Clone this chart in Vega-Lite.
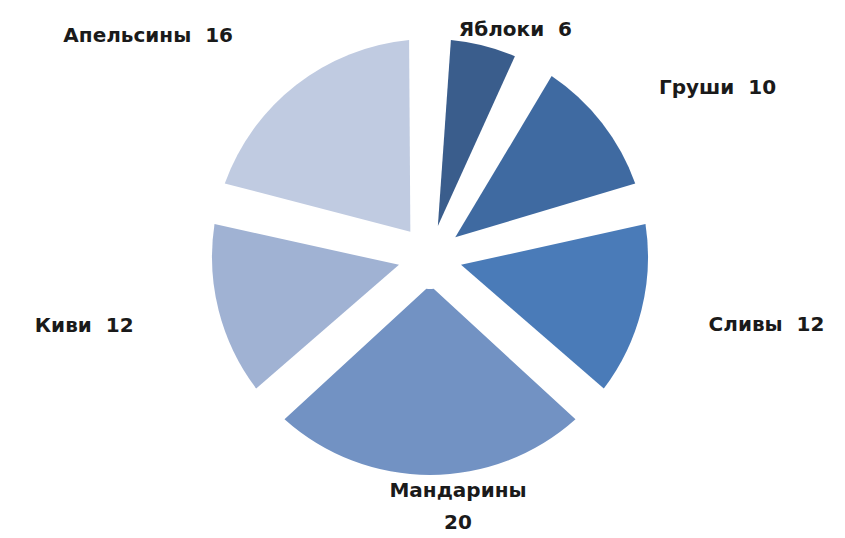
{
  "$schema": "https://vega.github.io/schema/vega-lite/v6.json",
  "autosize": {"type": "none"},
  "width": 460,
  "height": 460,
  "padding": {"left": 200, "top": 27, "right": 185, "bottom": 51},
  "background": "white",
  "config": {"view": {"stroke": null}},
  "data": {
    "values": [
      {"i": 1, "fruit": "Яблоки", "value": 6, "label": "Яблоки\u00a0\u00a06"},
      {"i": 2, "fruit": "Груши", "value": 10, "label": "Груши\u00a0\u00a010"},
      {"i": 3, "fruit": "Сливы", "value": 12, "label": "Сливы\u00a0\u00a012"},
      {"i": 4, "fruit": "Мандарины", "value": 20, "label": "Мандарины\n20"},
      {"i": 5, "fruit": "Киви", "value": 12, "label": "Киви\u00a0\u00a012"},
      {"i": 6, "fruit": "Апельсины", "value": 16, "label": "Апельсины\u00a0\u00a016"}
    ]
  },
  "encoding": {
    "theta": {"field": "value", "type": "quantitative", "stack": true},
    "order": {"field": "i", "type": "quantitative"}
  },
  "layer": [
    {
      "mark": {"type": "arc", "outerRadius": 218, "innerRadius": 32, "padAngle": 0.19},
      "encoding": {
        "color": {
          "field": "fruit",
          "type": "nominal",
          "sort": null,
          "scale": {
            "domain": ["Яблоки", "Груши", "Сливы", "Мандарины", "Киви", "Апельсины"],
            "range": ["#3a5d8c", "#3f6aa1", "#4a7bb8", "#7292c3", "#a0b2d3", "#c0cbe1"]
          },
          "legend": null
        }
      }
    },
    {
      "mark": {"type": "text", "radius": 234, "align": "center", "baseline": "middle", "dx": 28, "font": "DejaVu Sans", "fontWeight": "bold", "fontSize": 20, "color": "#1a1a1a", "lineBreak": "\n", "lineHeight": 32},
      "encoding": {
        "detail": {"field": "fruit", "type": "nominal"},
        "text": {"condition": {"test": "datum.fruit === 'Яблоки' || datum.fruit === 'Мандарины'", "field": "label"}, "value": ""}
      }
    },
    {
      "mark": {"type": "text", "radius": 275, "dx": 12, "align": "left", "baseline": "middle", "font": "DejaVu Sans", "fontWeight": "bold", "fontSize": 20, "color": "#1a1a1a"},
      "encoding": {
        "detail": {"field": "fruit", "type": "nominal"},
        "text": {"condition": {"test": "datum.fruit === 'Груши' || datum.fruit === 'Сливы'", "field": "label"}, "value": ""}
      }
    },
    {
      "mark": {"type": "text", "radius": 280, "dx": -25, "align": "right", "baseline": "middle", "font": "DejaVu Sans", "fontWeight": "bold", "fontSize": 20, "color": "#1a1a1a"},
      "encoding": {
        "detail": {"field": "fruit", "type": "nominal"},
        "text": {"condition": {"test": "datum.fruit === 'Киви' || datum.fruit === 'Апельсины'", "field": "label"}, "value": ""}
      }
    }
  ]
}
